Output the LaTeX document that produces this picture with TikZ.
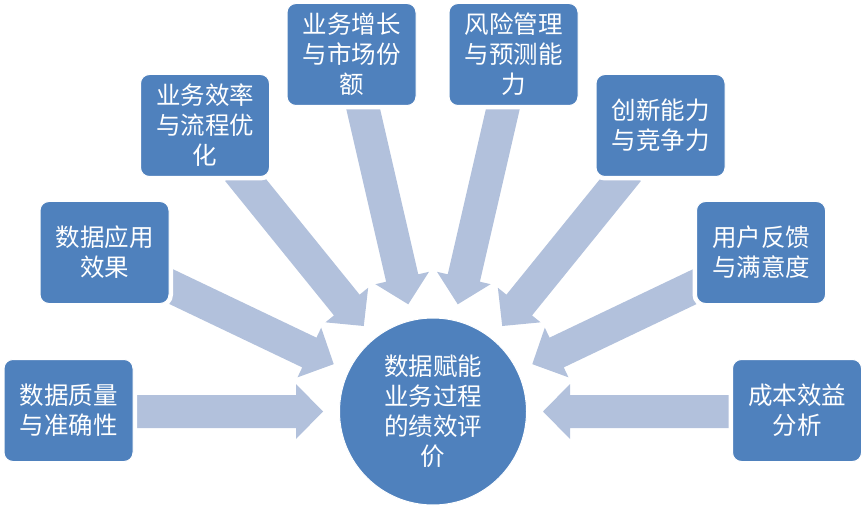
\documentclass[tikz,border=0pt]{standalone}
\usepackage{fontspec}
\newfontfamily\cjk{Noto Sans CJK SC}
\definecolor{boxblue}{RGB}{79,129,189}
\definecolor{arrowblue}{RGB}{178,193,220}
\tikzset{
  box/.style={rectangle, rounded corners=9pt, fill=boxblue, draw=white, line width=1pt,
    preaction={draw=white, line width=8pt},
    minimum width=129pt, minimum height=102pt, inner sep=0pt,
    text=white, align=center, font=\cjk\fontsize{24.5}{30}\selectfont},
  hub/.style={circle, fill=boxblue, draw=white, line width=1pt,
    minimum size=187pt, inner sep=0pt,
    text=white, align=center, font=\cjk\fontsize{24.5}{30}\selectfont},
  blockarrow/.style={fill=arrowblue, draw=none}
}
\newcommand\inarrow[2]{%
  \begin{scope}[shift={(hub.center)}, rotate=#1]
    \fill[blockarrow] (110,0) -- (137,27.5) -- (137,16.5) -- (#2,16.5)
      -- (#2,-16.5) -- (137,-16.5) -- (137,-27.5) -- cycle;
  \end{scope}}
\begin{document}
\begin{tikzpicture}[x=1pt,y=1pt]
\useasboundingbox (0,0) rectangle (866,509);
\coordinate (hubpos) at (433,97.5);
\node[hub] (hub) at (hubpos) {数据赋能\\业务过程\\的绩效评\\价};
\inarrow{180}{300}
\inarrow{154.5}{300}
\inarrow{129}{310}
\inarrow{103}{320}
\inarrow{77}{320}
\inarrow{51}{310}
\inarrow{25.5}{300}
\inarrow{0}{300}
\node[box] (b1) at (68.5,98.5) {数据质量\\与准确性};
\node[box] (b2) at (104.5,256.5) {数据应用\\效果};
\node[box] (b3) at (205,383.5) {业务效率\\与流程优\\化};
\node[box] (b4) at (351.5,454.5) {业务增长\\与市场份\\额};
\node[box] (b5) at (513.5,454.5) {风险管理\\与预测能\\力};
\node[box] (b6) at (660.5,383.5) {创新能力\\与竞争力};
\node[box] (b7) at (761,256.5) {用户反馈\\与满意度};
\node[box] (b8) at (797,98.5) {成本效益\\分析};
\end{tikzpicture}
\end{document}
